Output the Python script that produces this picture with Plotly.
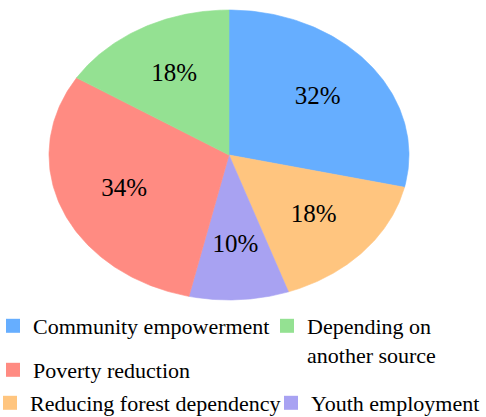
import numpy as np
import plotly.graph_objects as go

# Slices in clockwise order starting at 12 o'clock
categories = ["Community empowerment", "Reducing forest dependency", "Youth employment",
              "Poverty reduction", "Depending on another source"]
shares = [32, 18, 10, 34, 18]  # percent labels
slice_colors = ["#66AEFF", "#FFC57F", "#A8A2F2", "#FF8B82", "#94E192"]

# Legend entries (alphabetical), each in its own legend box
legend_order = sorted(categories)
legend_ids = ["legend", "legend2", "legend3", "legend4", "legend5"]
legend_labels = {"Depending on another source": "Depending on<br>another source"}

SERIF = "'Times New Roman', 'Liberation Serif', 'DejaVu Serif', serif"

fig = go.Figure()

total = float(sum(shares))
bounds = np.concatenate([[0.0], np.cumsum(shares)]) / total * 2 * np.pi
for name, color, a0, a1 in zip(categories, slice_colors, bounds[:-1], bounds[1:]):
    th = np.linspace(a0, a1, 120)
    xs = np.concatenate([[0.0], np.sin(th), [0.0]])
    ys = np.concatenate([[0.0], np.cos(th), [0.0]])
    fig.add_trace(go.Scatter(
        x=xs, y=ys, mode="lines", fill="toself", fillcolor=color,
        line=dict(color=color, width=0.6), showlegend=False,
        hoverinfo="skip", name=name))

# Percentage labels inside each slice
mid = (bounds[:-1] + bounds[1:]) / 2
r_lab = 0.63
fig.add_trace(go.Scatter(
    x=r_lab * np.sin(mid), y=r_lab * np.cos(mid), mode="text",
    text=[f"{v}%" for v in shares],
    textfont=dict(family=SERIF, size=25, color="black"),
    showlegend=False, hoverinfo="skip"))

# Legend entries
color_of = dict(zip(categories, slice_colors))
for name, leg in zip(legend_order, legend_ids):
    fig.add_trace(go.Scatter(
        x=[None], y=[None], mode="markers", legend=leg,
        name=legend_labels.get(name, name),
        marker=dict(symbol="square", size=14, color=color_of[name]),
        hoverinfo="skip"))

W, H = 486, 417
cx, cy, ax_px, ay_px = 229, 155, 180, 145

legend_common = dict(
    orientation="h", xanchor="left", yanchor="top", valign="top",
    font=dict(family=SERIF, size=22, color="black"),
    bgcolor="rgba(0,0,0,0)")

# (left, top) of each legend box, in pixels from the top-left corner
legend_pos = [(-7, 305), (267, 305), (-7, 349), (-10, 382), (271, 382)]

layout_legends = {
    leg: dict(legend_common, x=px / W, y=1 - py / H)
    for leg, (px, py) in zip(legend_ids, legend_pos)
}

fig.update_layout(
    width=W, height=H, margin=dict(l=0, r=0, t=0, b=0, autoexpand=False),
    paper_bgcolor="white", plot_bgcolor="white",
    font=dict(family=SERIF),
    xaxis=dict(range=[-cx / ax_px, (W - cx) / ax_px], visible=False, fixedrange=True),
    yaxis=dict(range=[-(H - cy) / ay_px, cy / ay_px], visible=False, fixedrange=True),
    **layout_legends,
)

fig.write_html("out.html")
